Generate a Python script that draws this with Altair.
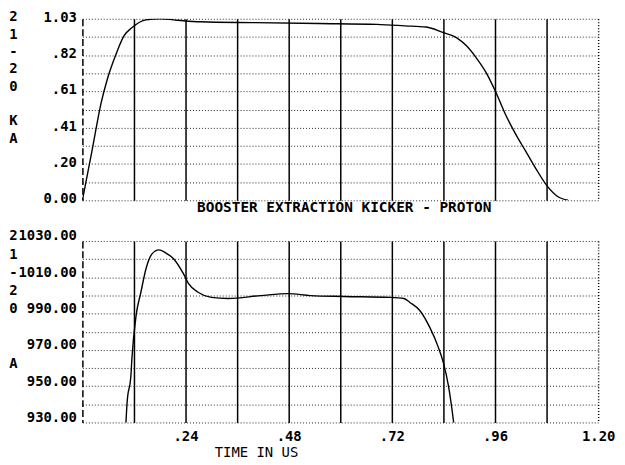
import altair as alt
import pandas as pd

# ---- data ----
t_top = [0.0, 0.022, 0.044, 0.058, 0.078, 0.097, 0.115, 0.148, 0.182, 0.212, 0.235, 0.275,
         0.40, 0.55, 0.685, 0.75, 0.80, 0.84, 0.87, 0.893, 0.916, 0.939, 0.962, 0.985,
         1.009, 1.032, 1.055, 1.082, 1.105, 1.13]
v_top = [0.0, 0.276, 0.557, 0.687, 0.827, 0.934, 0.979, 1.024, 1.03, 1.024, 1.019, 1.013,
         1.008, 1.003, 0.998, 0.99, 0.983, 0.951, 0.923, 0.878, 0.810, 0.726, 0.613, 0.484,
         0.371, 0.276, 0.180, 0.079, 0.023, 0.0]

t_bot = [0.099, 0.1015, 0.104, 0.113, 0.115, 0.125, 0.136, 0.148, 0.162, 0.178, 0.194,
         0.212, 0.235, 0.247, 0.27, 0.30, 0.339, 0.415, 0.478, 0.531, 0.609, 0.715, 0.748,
         0.762, 0.785, 0.808, 0.828, 0.840, 0.852, 0.863, 0.868]
v_bot = [918.0, 930.6, 940.9, 956.2, 964.4, 989.0, 1001.6, 1014.7, 1022.9, 1025.1, 1023.4,
         1020.2, 1012.0, 1006.5, 1001.6, 998.9, 998.3, 999.9, 1001.0, 999.9, 999.4, 998.9,
         998.3, 996.1, 991.7, 982.5, 971.5, 962.8, 949.7, 931.6, 922.0]

x_grid = [0.0, 0.12, 0.24, 0.36, 0.48, 0.60, 0.72, 0.84, 0.96, 1.08, 1.20]
x_label_vals = [0.24, 0.48, 0.72, 0.96, 1.20]
x_label_txt = [".24", ".48", ".72", ".96", "1.20"]

top_grid = [0.0, 0.103, 0.206, 0.309, 0.412, 0.515, 0.618, 0.721, 0.824, 0.927, 1.03]
top_label_vals = [0.0, 0.206, 0.412, 0.618, 0.824, 1.03]
top_label_txt = ["0.00", ".20", ".41", ".61", ".82", "1.03"]

bot_grid = [930, 940, 950, 960, 970, 980, 990, 1000, 1010, 1020, 1030]
bot_label_vals = [930, 950, 970, 990, 1010, 1030]
bot_label_txt = ["930.00", "950.00", "970.00", "990.00", "1010.00", "1030.00"]

NB = "\u2800"
top_ytitle = ["2", "1", "-", "2", "0", NB, "K", "A"]
bot_ytitle = ["2", "1", "-", "2", "0", NB, NB, "A"]

FONT = "DejaVu Sans Mono"


def label_expr(vals, txts):
    e = "''"
    for v, s in zip(vals, txts):
        e = f"abs(datum.value - {v}) < 1e-6 ? '{s}' : ({e})"
    return e


grid_dash = {"condition": [{"test": "datum.value < 0.01", "value": [7, 3]},
                           {"test": "datum.value > 1.19", "value": [1, 2]}],
             "value": []}


def x_axis(show_labels):
    kw = dict(values=x_grid, grid=True, gridColor="#000", gridWidth=1.5, gridOpacity=1,
              gridDash=grid_dash, domain=False, ticks=False)
    if show_labels:
        kw.update(labels=True, labelExpr=label_expr(x_label_vals, x_label_txt),
                  labelFont=FONT, labelFontSize=14, labelColor="#000", labelFlush=False,
                  labelPadding=7, labelFontWeight="bold",
                  title="TIME IN US", titleFont=FONT, titleFontSize=14, titleFontWeight="normal",
                  titleColor="#000", titleX=175, titleY=30, titleAlign="center",
                  titleBaseline="middle")
    else:
        kw.update(labels=False, title=None)
    return alt.Axis(**kw)


def y_axis(grid_vals, lvals, ltxt, ttl, lh, loff, ty):
    return alt.Axis(values=grid_vals, grid=True, gridColor="#000", gridDash=[1, 2],
                    gridWidth=1, gridOpacity=0.85, domain=False, ticks=False,
                    labelExpr=label_expr(lvals, ltxt), labelFont=FONT, labelFontSize=14,
                    labelFontWeight="bold", labelColor="#000", labelPadding=6,
                    labelOffset=loff,
                    title=ttl, titleAngle=0, titleAlign="center", titleBaseline="top",
                    titleX=-70, titleY=ty, titleLineHeight=lh, titleFont=FONT,
                    titleFontSize=14, titleFontWeight="bold", titleColor="#000")


df_top = pd.DataFrame({"t": t_top, "v": v_top})
df_bot = pd.DataFrame({"t": t_bot, "v": v_bot})

top = alt.Chart(df_top).mark_line(color="#000", strokeWidth=1.4, clip=True,
                                  interpolate="monotone").encode(
    x=alt.X("t:Q", scale=alt.Scale(domain=[0, 1.2], nice=False, zero=False), axis=x_axis(False)),
    y=alt.Y("v:Q", scale=alt.Scale(domain=[0, 1.03], nice=False, zero=False),
            axis=y_axis(top_grid, top_label_vals, top_label_txt, top_ytitle, 17.5, -1.5, -9)),
).properties(width=520, height=183)

bottom = alt.Chart(df_bot).mark_line(color="#000", strokeWidth=1.4, clip=True,
                                     interpolate="monotone").encode(
    x=alt.X("t:Q", scale=alt.Scale(domain=[0, 1.2], nice=False, zero=False), axis=x_axis(True)),
    y=alt.Y("v:Q", scale=alt.Scale(domain=[930, 1030], nice=False, zero=False),
            axis=y_axis(bot_grid, bot_label_vals, bot_label_txt, bot_ytitle, 18.3, -5, -12)),
).properties(
    width=520, height=183,
    title=alt.TitleParams("BOOSTER EXTRACTION KICKER - PROTON", font=FONT, fontSize=14.5,
                          fontWeight="bold", color="#000", anchor="middle", offset=14, dx=4),
)

chart = alt.vconcat(top, bottom, spacing=41, bounds="flush").properties(
    padding={"left": 0, "top": 0, "right": 2, "bottom": 2},
    background="white",
).configure_view(stroke=None)

chart.save("out.html", embed_options={"renderer": "svg", "actions": False})
